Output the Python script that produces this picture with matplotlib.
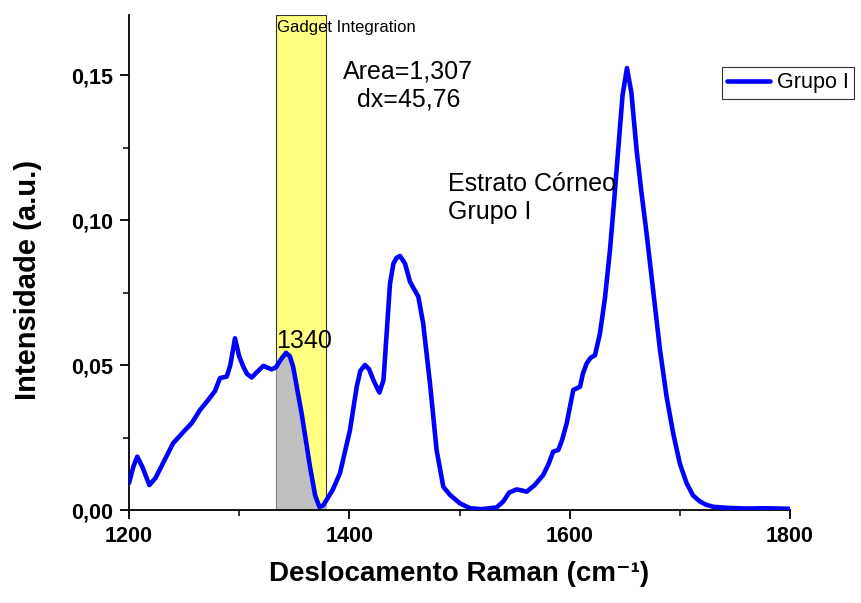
import matplotlib
matplotlib.use("Agg")
import matplotlib.pyplot as plt
import numpy as np
from matplotlib.ticker import MultipleLocator, FuncFormatter

plt.rcParams['font.family'] = ['Liberation Sans', 'DejaVu Sans']

# Raman spectrum, Grupo I
shift = [1200, 1204, 1207.5, 1212, 1218.5, 1224, 1232, 1240, 1251, 1257, 1264.5, 1272,
         1278, 1282.6, 1288.7, 1292, 1296.2, 1300, 1303.8, 1307, 1311.4, 1316, 1322,
         1329.5, 1333.4, 1338, 1342.5, 1346, 1349, 1356.7, 1364.3, 1369, 1372.8, 1376,
         1379.2, 1385, 1391.5, 1400.6, 1406.7, 1410, 1414.2, 1418, 1421.8, 1427.3,
         1431, 1433, 1436.9, 1440, 1443, 1446, 1450.5, 1455, 1459, 1462.6, 1467, 1473.2,
         1479.2, 1485.3, 1491.4, 1500.4, 1509.5, 1520, 1533.7, 1539.7, 1545, 1551.8,
         1556, 1560.9, 1568, 1576, 1581, 1585, 1589.7, 1593, 1597.3, 1603.3, 1609.4,
         1612, 1615.5, 1619, 1623, 1627.5, 1632, 1636.6, 1640, 1644, 1648, 1652, 1656,
         1660.8, 1665, 1669.8, 1676, 1682, 1688, 1694, 1700, 1706.2, 1712, 1718.4,
         1724, 1730.4, 1745, 1760, 1775, 1790, 1800]
intensity = [0.0093, 0.0150, 0.0184, 0.0150, 0.0086, 0.0110, 0.0170, 0.0230, 0.0276,
             0.0300, 0.0345, 0.0380, 0.0410, 0.0455, 0.0460, 0.0500, 0.0592, 0.0530,
             0.0494, 0.0470, 0.0457, 0.0475, 0.0497, 0.0485, 0.0492, 0.0520, 0.0542,
             0.0530, 0.0494, 0.0333, 0.0149, 0.0050, 0.0011, 0.0015, 0.0034, 0.0070,
             0.0127, 0.0276, 0.0425, 0.0480, 0.0500, 0.0485, 0.0448, 0.0405, 0.0448,
             0.0560, 0.0780, 0.0850, 0.0870, 0.0876, 0.0850, 0.0788, 0.0760, 0.0736,
             0.0644, 0.0437, 0.0207, 0.0080, 0.0052, 0.0023, 0.0006, 0.0003, 0.0009,
             0.0029, 0.0060, 0.0071, 0.0068, 0.0063, 0.0085, 0.0121, 0.0160, 0.0201,
             0.0207, 0.0240, 0.0299, 0.0414, 0.0425, 0.0470, 0.0506, 0.0525, 0.0534,
             0.0609, 0.0730, 0.0897, 0.1050, 0.1240, 0.1430, 0.1524, 0.1440, 0.1240,
             0.1100, 0.0954, 0.0750, 0.0552, 0.0390, 0.0264, 0.0160, 0.0092, 0.0050,
             0.0029, 0.0018, 0.0011, 0.0007, 0.0005, 0.0006, 0.0005, 0.0004]

x_lo, x_hi = 1333.4, 1379.2
peak_label = "1340"
area_text = "Area=1,307\n  dx=45,76"
sample_text = "Estrato Córneo\nGrupo I"

x_ticks = [1200, 1400, 1600, 1800]
y_ticks = [0.0, 0.05, 0.10, 0.15]

fig = plt.figure(figsize=(8.62, 6.03), dpi=100)
ax = fig.add_axes([129/862, 93/603, (790-129)/862, (510-15)/603])

ax.set_xlim(1200, 1800)
ax.set_ylim(0, 0.1707)

ax.axvspan(x_lo, x_hi, ymin=0, ymax=1.0, facecolor='#ffff80', edgecolor='#333333',
           linewidth=0.8, zorder=1)
xs = np.array(shift)
ys = np.array(intensity)
mask = (xs >= x_lo) & (xs <= x_hi)
ax.fill_between(xs[mask], 0, ys[mask], color='#c0c0c0', zorder=2, linewidth=0)

ax.plot(shift, intensity, color='#0000ff', linewidth=3.3, label='Grupo I', zorder=3,
        solid_joinstyle='round', solid_capstyle='round')

ax.spines['top'].set_visible(False)
ax.spines['right'].set_visible(False)
for s in ['left', 'bottom']:
    ax.spines[s].set_linewidth(1.3)

ax.set_xticks(x_ticks)
ax.set_yticks(y_ticks)
ax.xaxis.set_minor_locator(MultipleLocator(100))
ax.yaxis.set_minor_locator(MultipleLocator(0.025))
ax.yaxis.set_major_formatter(FuncFormatter(lambda v, p: f"{v:.2f}".replace('.', ',')))
ax.tick_params(which='major', direction='out', length=6.5, width=1.3, labelsize=15.5, pad=5)
ax.tick_params(which='minor', direction='out', length=4, width=1.1)
for lab in ax.get_xticklabels() + ax.get_yticklabels():
    lab.set_fontweight('bold')

ax.set_xlabel("Deslocamento Raman (cm\u207b\u00b9)", fontsize=20, fontweight='bold', labelpad=10)
ax.set_ylabel("Intensidade (a.u.)", fontsize=21, fontweight='bold')
ax.yaxis.set_label_coords(-0.132, 0.465)

ax.text(x_lo + 0.5, 0.1690, "Gadget Integration", fontsize=12, ha='left', va='top', zorder=4)
ax.text(1394, 0.1553, area_text, fontsize=18, ha='left', va='top', zorder=4, linespacing=1.22)
ax.text(x_lo + 0.5, 0.0542, peak_label, fontsize=18, ha='left', va='bottom', zorder=4)
ax.text(1489.5, 0.1165, sample_text, fontsize=18, ha='left', va='top', zorder=4, linespacing=1.2)

leg = fig.legend(loc='upper left', bbox_to_anchor=(722/862, 1 - 67/603), frameon=True,
                 fancybox=False, fontsize=15.5, handlelength=2.0, borderpad=0.25,
                 handletextpad=0.3, borderaxespad=0)
leg.get_frame().set_edgecolor('black')
leg.get_frame().set_linewidth(0.8)

fig.savefig('out.png', dpi=100)
